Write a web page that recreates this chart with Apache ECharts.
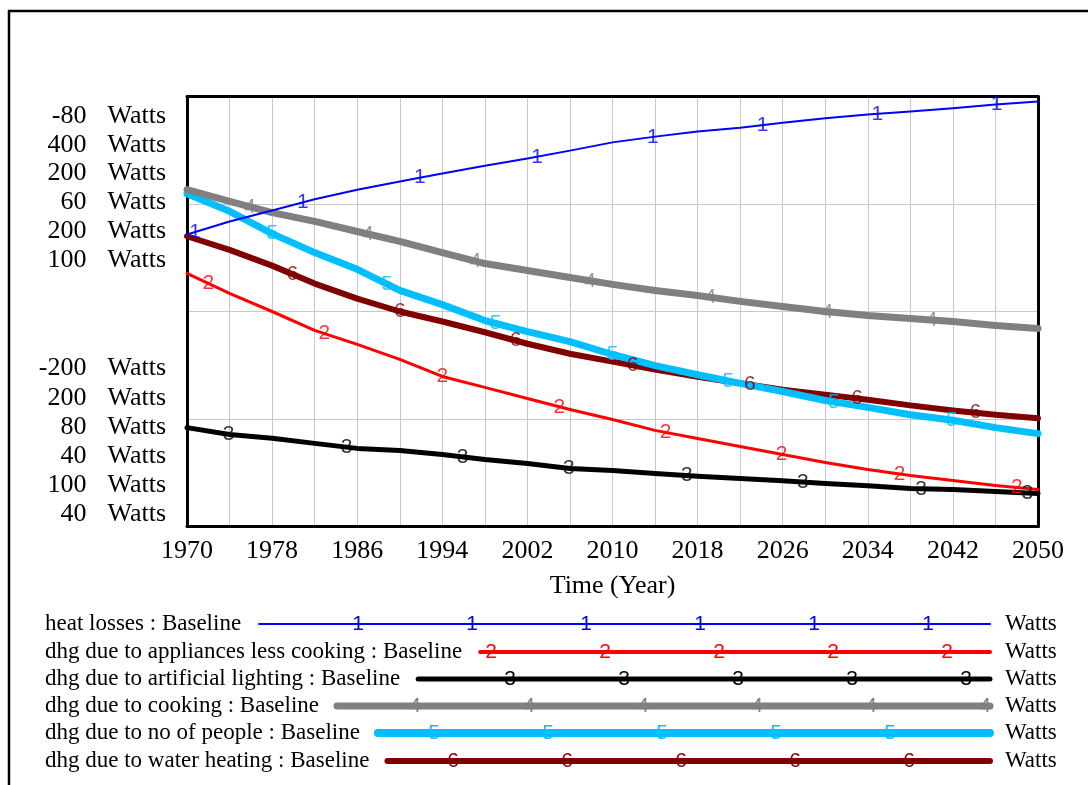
<!DOCTYPE html>
<html>
<head>
<meta charset="utf-8">
<title>Baseline heat gains and losses</title>
<script src="https://cdn.jsdelivr.net/npm/echarts@6/dist/echarts.min.js"></script>
<style>
  html, body { margin: 0; padding: 0; background: #ffffff; }
  #chart { width: 1088px; height: 785px; }
</style>
</head>
<body>
<div id="chart"></div>
<script>
// Simulation output, one value every four years
const years = [1970, 1974, 1978, 1982, 1986, 1990, 1994, 1998, 2002, 2006, 2010,
               2014, 2018, 2022, 2026, 2030, 2034, 2038, 2042, 2046, 2050];

const heatLosses   = [-118.5, -114.9, -111.8, -108.7, -106.0, -103.7, -101.5, -99.3, -97.3, -95.1, -92.8,
                      -91.2, -89.8, -88.7, -87.3, -86.1, -85.0, -84.2, -83.3, -82.2, -81.4];
const appliances   = [317.7, 308.4, 300.0, 291.2, 284.7, 277.7, 269.8, 264.7, 259.5, 254.4, 249.8,
                      244.7, 240.9, 237.2, 233.5, 229.8, 226.5, 223.7, 221.4, 219.1, 217.2];
const lighting     = [107.6, 105.7, 104.6, 103.2, 101.8, 101.2, 100.1, 98.7, 97.6, 96.2, 95.6,
                      94.8, 94.0, 93.4, 92.8, 92.0, 91.4, 90.6, 90.3, 89.8, 89.2];
const cooking      = [55.67, 55.12, 54.60, 54.19, 53.72, 53.26, 52.74, 52.23, 51.91, 51.58, 51.26,
                      50.98, 50.74, 50.47, 50.23, 50.00, 49.81, 49.67, 49.53, 49.35, 49.21];
const people       = [177.4, 173.3, 168.1, 163.7, 159.8, 154.9, 151.6, 147.9, 145.3, 143.0, 140.0,
                      137.4, 135.3, 133.3, 131.4, 129.3, 127.7, 126.0, 124.7, 123.0, 121.6];
const waterHeating = [80.5, 78.6, 76.4, 73.9, 71.8, 70.0, 68.6, 67.1, 65.5, 64.1, 63.0,
                      61.9, 60.9, 60.0, 59.1, 58.4, 57.7, 56.9, 56.2, 55.6, 55.1];

// Each variable has its own vertical scale
const scaleMin = [-200, 200, 80, 40, 100, 40];
const scaleMax = [-80, 400, 200, 60, 200, 100];
const scaleStep = [40, 200, 40, 20, 100, 20];
const unit = 'Watts';

const seriesNames = [
  'heat losses : Baseline',
  'dhg due to appliances less cooking : Baseline',
  'dhg due to artificial lighting : Baseline',
  'dhg due to cooking : Baseline',
  'dhg due to no of people : Baseline',
  'dhg due to water heating : Baseline'
];
const seriesValues = [heatLosses, appliances, lighting, cooking, people, waterHeating];

// Years at which each line carries its number tag
const markerYears = [
  [1970.75, 1980.9, 1991.9, 2002.9, 2013.8, 2024.1, 2034.9, 2046.1],
  [1972.0, 1982.9, 1994.0, 2005.0, 2015.0, 2025.9, 2037.0, 2048.0],
  [1973.9, 1985.0, 1995.9, 2005.9, 2017.0, 2027.9, 2039.0, 2049.0],
  [1975.9, 1987.0, 1997.1, 2007.9, 2019.2, 2030.2, 2040.0],
  [1978.0, 1988.8, 1999.0, 2010.0, 2020.9, 2030.8, 2041.9],
  [1979.9, 1990.0, 2000.9, 2011.9, 2022.9, 2033.0, 2044.1]
];

const colors = ['#0000ff', '#ff0000', '#000000', '#808080', '#00bfff', '#800000'];
const widths = [2, 3, 5, 7, 7, 6];
const legendWidths = [2, 4, 5, 7, 8, 6];

const serif = '"Liberation Serif", "Times New Roman", serif';
const sans = '"Liberation Sans", Arial, sans-serif';
const frame = { show: true, onZero: false, lineStyle: { color: '#000', width: 3 } };
const grey = { show: true, lineStyle: { color: '#c8c8c8', width: 1 } };

function valueAt(values, yr) {
  for (let j = 0; j < years.length - 1; j++) {
    if (yr >= years[j] && yr <= years[j + 1]) {
      const t = (yr - years[j]) / (years[j + 1] - years[j]);
      return values[j] + t * (values[j + 1] - values[j]);
    }
  }
  return values[values.length - 1];
}

// Axis 0 carries the horizontal grid and the left frame edge, axis 1 the right edge;
// axes 2..7 are the per-variable scales
const yAxes = [
  {
    type: 'value', min: 0, max: 4, interval: 1, position: 'left',
    axisLine: frame, axisTick: { show: false }, axisLabel: { show: false }, splitLine: grey
  },
  {
    type: 'value', min: 0, max: 4, interval: 1, position: 'right',
    axisLine: frame, axisTick: { show: false }, axisLabel: { show: false }, splitLine: { show: false }
  }
];
const labelFont = { fontFamily: serif, fontSize: 26, color: '#000' };
for (let i = 0; i < 6; i++) {
  const dTop = 19.5 + 28.8 * i;        // max-value lines stack downward from the top edge
  const dBot = 12 + 29.2 * (5 - i);    // min-value lines stack upward from the bottom edge
  const lo = scaleMin[i], hi = scaleMax[i];
  yAxes.push({
    type: 'value', min: lo, max: hi, interval: scaleStep[i], position: 'left',
    axisLine: { show: false }, axisTick: { show: false }, splitLine: { show: false },
    axisLabel: {
      margin: 21,
      ...labelFont,
      formatter: function (v) {
        if (v === hi) return '{h|' + v + '}{hu|' + unit + '}';
        if (v === lo) return '{l|' + v + '}{lu|' + unit + '}';
        return '';
      },
      rich: {
        h:  { ...labelFont, padding: [2 * dTop, 0, 0, 0] },
        hu: { ...labelFont, padding: [2 * dTop, 0, 0, 21] },
        l:  { ...labelFont, padding: [0, 0, 2 * dBot, 0] },
        lu: { ...labelFont, padding: [0, 0, 2 * dBot, 21] }
      }
    }
  });
}

const series = [];
// Draw variable 6 first so variable 1 ends up on top
for (let i = 5; i >= 0; i--) {
  series.push({
    type: 'line',
    name: seriesNames[i],
    yAxisIndex: i + 2,
    data: years.map((y, j) => [y, seriesValues[i][j]]),
    showSymbol: false,
    silent: true,
    lineStyle: { color: colors[i], width: widths[i], cap: 'round', join: 'round' },
    itemStyle: { color: colors[i] },
    z: 2
  });
}
for (let i = 5; i >= 0; i--) {
  series.push({
    type: 'scatter',
    yAxisIndex: i + 2,
    data: markerYears[i].map(yr => [yr, valueAt(seriesValues[i], yr)]),
    symbol: 'circle',
    symbolSize: 1,
    silent: true,
    itemStyle: { color: 'rgba(0,0,0,0)' },
    label: {
      show: true, position: 'inside', formatter: String(i + 1),
      color: colors[i], fontFamily: sans, fontSize: 21
    },
    z: 5
  });
}

// Legend block: name, line with number tags, unit
const measure = document.createElement('canvas').getContext('2d');
measure.font = '23px ' + serif;
const legendRowY = [624, 652, 679, 706, 733, 761];
const graphics = [
  { type: 'line', shape: { x1: 8, y1: 11, x2: 1088, y2: 11 }, style: { stroke: '#000', lineWidth: 2.5 }, silent: true },
  { type: 'line', shape: { x1: 9, y1: 10, x2: 9, y2: 785 }, style: { stroke: '#000', lineWidth: 2.5 }, silent: true }
];
for (let i = 0; i < 6; i++) {
  const y = legendRowY[i];
  const textW = measure.measureText(seriesNames[i]).width;
  const startX = 45 + textW + 18;
  graphics.push({
    type: 'text', x: 45, y: y, silent: true,
    style: { text: seriesNames[i], font: '23px ' + serif, fill: '#000', verticalAlign: 'middle', align: 'left' }
  });
  graphics.push({
    type: 'line', silent: true,
    shape: { x1: startX, y1: y, x2: 990, y2: y },
    style: { stroke: colors[i], lineWidth: legendWidths[i], lineCap: 'round' }
  });
  for (let j = 0; j < 8; j++) {
    const mx = 358 + 19 * i + 114 * j;
    if (mx < startX + 6 || mx > 992) continue;
    graphics.push({
      type: 'text', x: mx, y: y, silent: true, z: 10,
      style: { text: String(i + 1), font: '21px ' + sans, fill: colors[i], align: 'center', verticalAlign: 'middle' }
    });
  }
  graphics.push({
    type: 'text', x: 1005, y: y, silent: true,
    style: { text: unit, font: '23px ' + serif, fill: '#000', verticalAlign: 'middle', align: 'left' }
  });
}

const chart = echarts.init(document.getElementById('chart'), null, { renderer: 'canvas' });
chart.setOption({
  animation: false,
  backgroundColor: '#ffffff',
  grid: {
    left: 187, right: 50, top: 96.5, bottom: 258.5,
    show: false, containLabel: false
  },
  xAxis: [
    {
      type: 'value', min: 1970, max: 2050, interval: 4, position: 'bottom',
      name: 'Time (Year)', nameLocation: 'middle', nameGap: 47,
      nameTextStyle: { fontFamily: serif, fontSize: 26, color: '#000' },
      axisLine: frame, axisTick: { show: false },
      axisLabel: {
        margin: 12, fontFamily: serif, fontSize: 26, color: '#000',
        formatter: v => ((v - 1970) % 8 === 0 ? String(v) : '')
      },
      splitLine: grey
    },
    {
      type: 'value', min: 1970, max: 2050, interval: 4, position: 'top',
      axisLine: frame, axisTick: { show: false }, axisLabel: { show: false }, splitLine: { show: false }
    }
  ],
  yAxis: yAxes,
  series: series,
  graphic: graphics
});
</script>
</body>
</html>
